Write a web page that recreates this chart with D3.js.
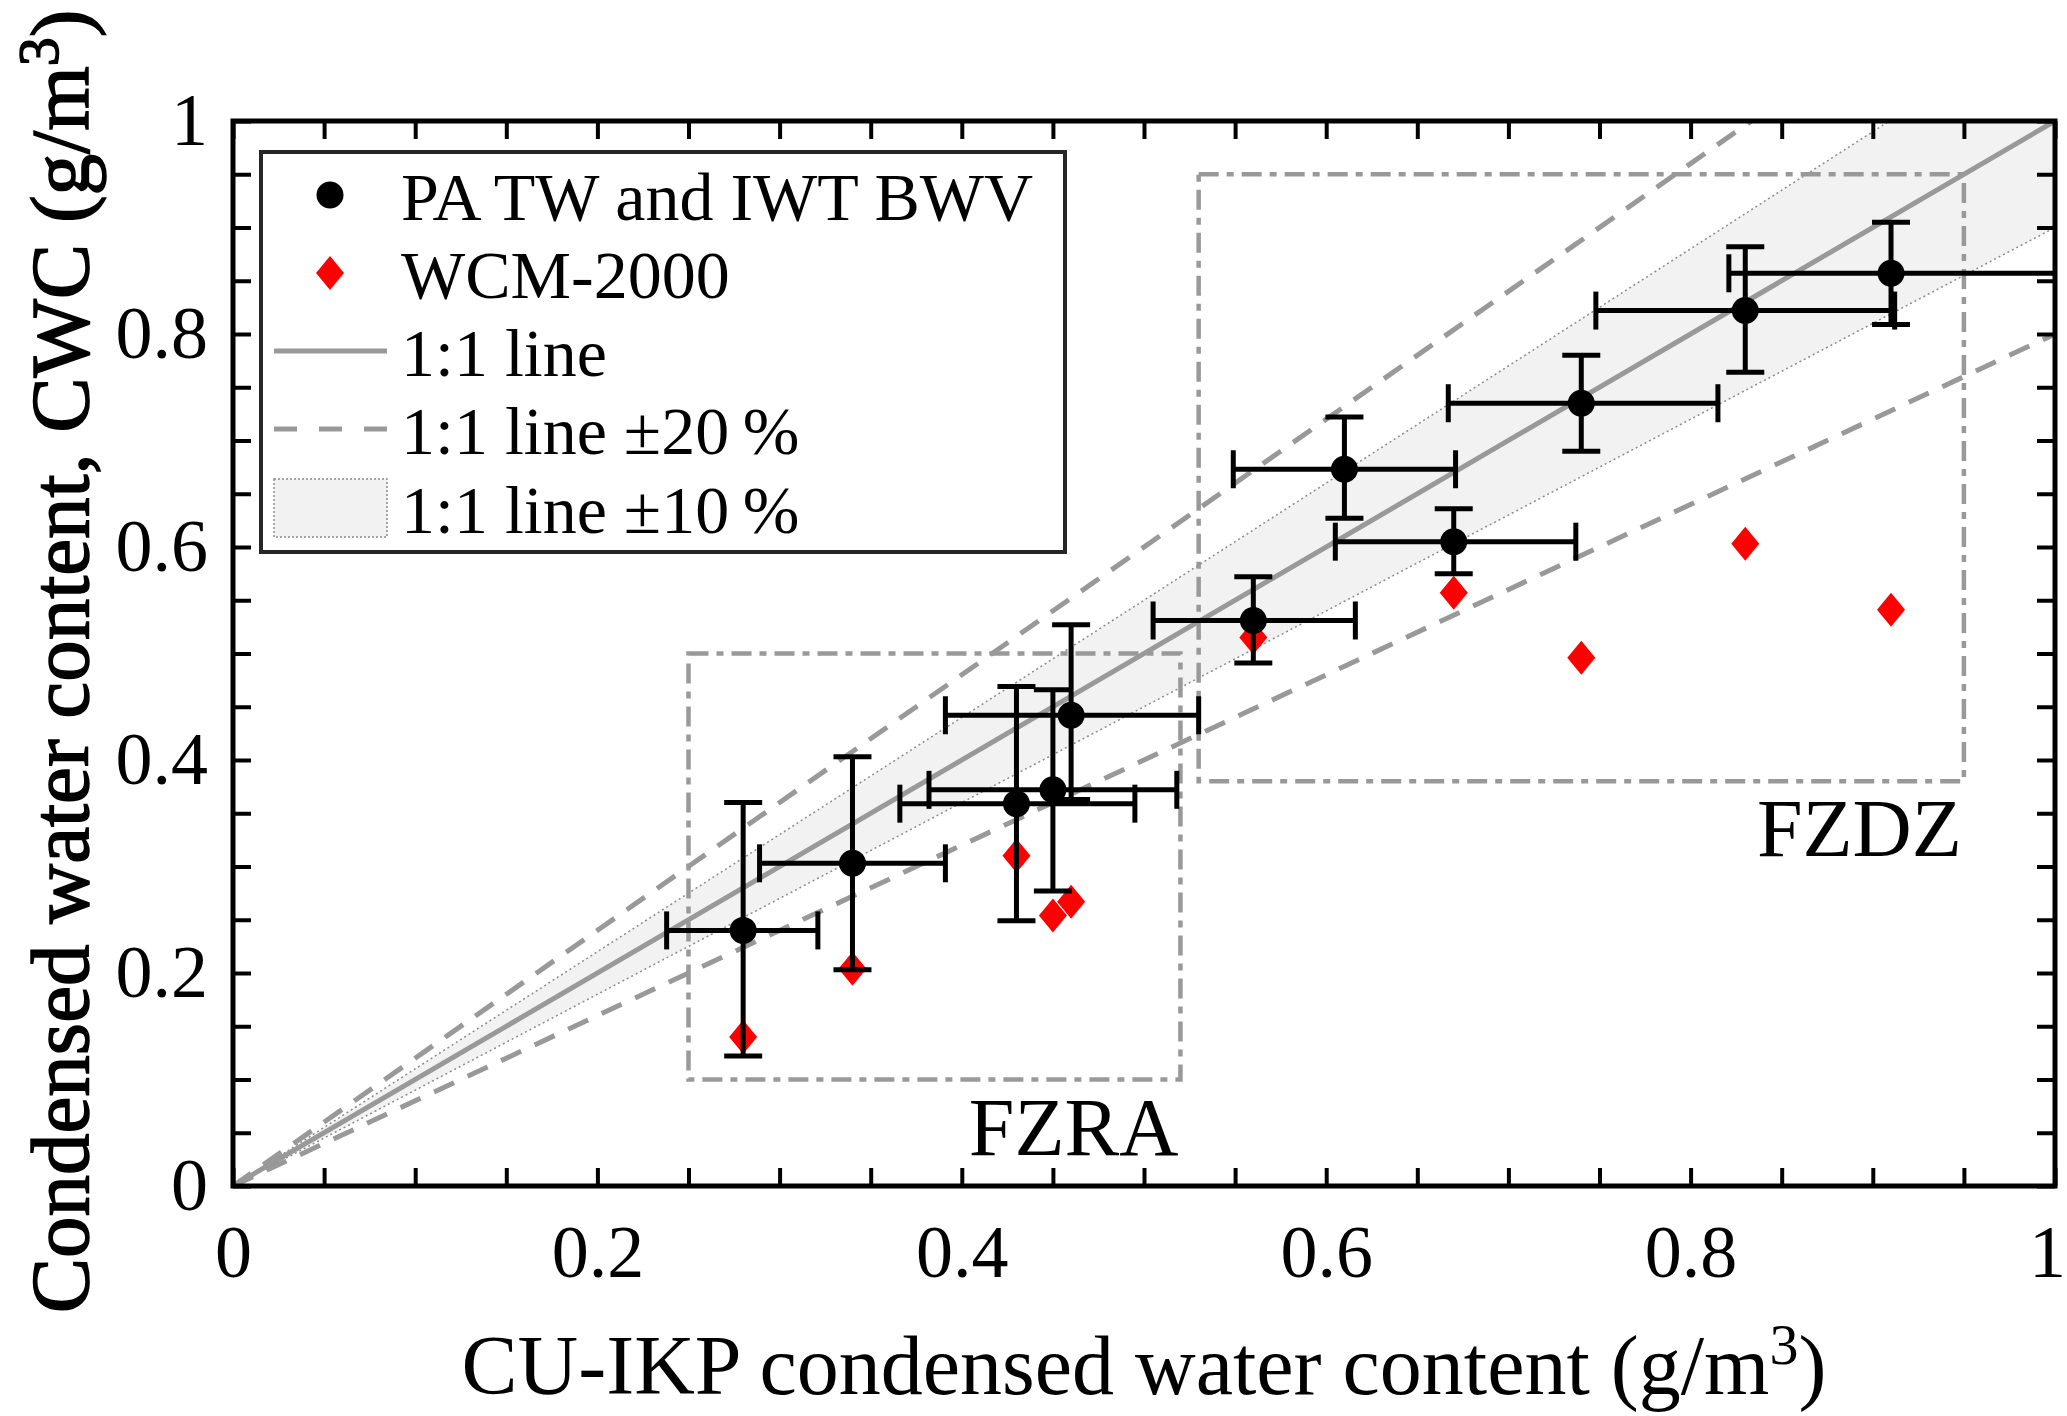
<!DOCTYPE html>
<html>
<head>
<meta charset="utf-8">
<script src="https://cdn.jsdelivr.net/npm/d3@7"></script>
<style>
  body { margin: 0; background: #fff; }
  text { font-family: "Liberation Serif", "Times New Roman", serif; fill: #000; }
</style>
</head>
<body>
<script>
// measured points (CU-IKP vs PA TW / IWT BWV)
const cuX   = [0.28, 0.34, 0.43, 0.45, 0.46, 0.56, 0.61, 0.67, 0.74, 0.83, 0.91];
const cuLo  = [0.238, 0.289, 0.366, 0.382, 0.391, 0.505, 0.549, 0.605, 0.667, 0.748, 0.821];
const cuHi  = [0.321, 0.391, 0.495, 0.518, 0.530, 0.616, 0.671, 0.737, 0.815, 0.912, 1.010];
const cwcY  = [0.240, 0.303, 0.359, 0.372, 0.442, 0.531, 0.673, 0.605, 0.735, 0.822, 0.857];
const cwcLo = [0.122, 0.203, 0.249, 0.277, 0.363, 0.491, 0.627, 0.575, 0.690, 0.764, 0.809];
const cwcHi = [0.360, 0.403, 0.469, 0.466, 0.527, 0.572, 0.722, 0.636, 0.780, 0.882, 0.905];

// WCM-2000 values
const wcmX  = [0.28, 0.34, 0.43, 0.45, 0.46, 0.56, 0.67, 0.74, 0.83, 0.91];
const wcmY  = [0.140, 0.204, 0.310, 0.254, 0.267, 0.515, 0.557, 0.496, 0.603, 0.541];

// regions
const regionNames = ['FZRA', 'FZDZ'];
const regionX0 = [0.25, 0.53];
const regionX1 = [0.52, 0.95];
const regionY0 = [0.10, 0.38];
const regionY1 = [0.50, 0.95];

const minorTicks = d3.range(21).map(i => i / 20);
const majorTicks = [0, 0.2, 0.4, 0.6, 0.8, 1];
const tickLabels = ['0', '0.2', '0.4', '0.6', '0.8', '1'];

const legendLabels = ['PA TW and IWT BWV', 'WCM-2000', '1:1 line', '1:1 line \u00B120\u2009%', '1:1 line \u00B110\u2009%'];

const W = 2067, H = 1416;
const mLeft = 233, mTop = 121, pw = 1822, ph = 1065;
const grey = '#999999';

const svg = d3.select('body').append('svg')
  .attr('width', W).attr('height', H);

const x = d3.scaleLinear().domain([0, 1]).range([0, pw]);
const y = d3.scaleLinear().domain([0, 1]).range([ph, 0]);

svg.append('defs').append('clipPath').attr('id', 'clip')
  .append('rect').attr('width', pw).attr('height', ph);

const g = svg.append('g').attr('transform', `translate(${mLeft},${mTop})`);
const plot = g.append('g').attr('clip-path', 'url(#clip)');

// +-10% band
plot.append('path')
  .datum([0, 1.2])
  .attr('d', d3.area().x(d => x(d)).y0(d => y(0.9 * d)).y1(d => y(1.1 * d)))
  .attr('fill', '#f2f2f2');

const line = k => d3.line().x(d => x(d)).y(d => y(k * d));

[0.9, 1.1].forEach(k => {
  plot.append('path').datum([0, 1.2]).attr('d', line(k))
    .attr('fill', 'none').attr('stroke', '#8c8c8c')
    .attr('stroke-width', 1.5).attr('stroke-dasharray', '2,3');
});

// +-20% lines
[0.8, 1.2].forEach(k => {
  plot.append('path').datum([0, 1.2]).attr('d', line(k))
    .attr('fill', 'none').attr('stroke', grey)
    .attr('stroke-width', 5).attr('stroke-dasharray', '22,15');
});

// 1:1 line
plot.append('path').datum([0, 1]).attr('d', line(1))
  .attr('fill', 'none').attr('stroke', grey).attr('stroke-width', 5);

// region boxes
regionNames.forEach((name, i) => {
  plot.append('rect')
    .attr('x', x(regionX0[i])).attr('y', y(regionY1[i]))
    .attr('width', x(regionX1[i]) - x(regionX0[i]))
    .attr('height', y(regionY0[i]) - y(regionY1[i]))
    .attr('fill', 'none').attr('stroke', grey)
    .attr('stroke-width', 4.5).attr('stroke-dasharray', '20,8,7,8');
  g.append('text')
    .attr('x', x(regionX1[i]) - 2).attr('y', y(regionY0[i]) + 75)
    .attr('text-anchor', 'end')
    .style('font-size', '82px')
    .text(name);
});

// WCM-2000 diamonds
const diamond = (cx, cy) => `M${cx},${cy - 17}L${cx + 14},${cy}L${cx},${cy + 17}L${cx - 14},${cy}Z`;
plot.selectAll('path.wcm').data(wcmX).enter().append('path')
  .attr('class', 'wcm')
  .attr('d', (d, i) => diamond(x(d), y(wcmY[i])))
  .attr('fill', '#ff0000');

// error bars
const cap = 19;
const eb = plot.append('g').attr('stroke', '#000').attr('stroke-width', 5).attr('fill', 'none');
cuX.forEach((cx, i) => {
  const px = x(cx), py = y(cwcY[i]);
  const segs = [
    [x(cuLo[i]), py, x(cuHi[i]), py],
    [x(cuLo[i]), py - cap, x(cuLo[i]), py + cap],
    [x(cuHi[i]), py - cap, x(cuHi[i]), py + cap],
    [px, y(cwcLo[i]), px, y(cwcHi[i])],
    [px - cap, y(cwcLo[i]), px + cap, y(cwcLo[i])],
    [px - cap, y(cwcHi[i]), px + cap, y(cwcHi[i])]
  ];
  segs.forEach(s => eb.append('line')
    .attr('x1', s[0]).attr('y1', s[1]).attr('x2', s[2]).attr('y2', s[3]));
});

plot.selectAll('circle.pt').data(cuX).enter().append('circle')
  .attr('class', 'pt')
  .attr('cx', d => x(d)).attr('cy', (d, i) => y(cwcY[i]))
  .attr('r', 13.5).attr('fill', '#000');

// axes: inward ticks on all four sides
const fmt = d => {
  const k = majorTicks.findIndex(m => Math.abs(m - d) < 1e-9);
  return k >= 0 ? tickLabels[k] : '';
};
const tickLen = 18;

const styleAxis = sel => {
  sel.select('.domain').remove();
  sel.selectAll('.tick line').attr('stroke', '#000').attr('stroke-width', 4);
  sel.selectAll('.tick text').style('font-size', '74px').attr('fill', '#000')
    .style('font-family', '"Liberation Serif", "Times New Roman", serif');
};

const xAxisG = g.append('g').attr('transform', `translate(0,${ph})`)
  .call(d3.axisBottom(x).tickValues(minorTicks).tickFormat(fmt)
    .tickSizeInner(-tickLen).tickSizeOuter(0).tickPadding(38))
  .call(styleAxis);
// keep the last label inside the page edge
xAxisG.selectAll('.tick text').filter(d => d === 1).attr('dx', -8);

g.append('g')
  .call(d3.axisLeft(y).tickValues(minorTicks).tickFormat(fmt)
    .tickSizeInner(-tickLen).tickSizeOuter(0).tickPadding(25))
  .call(styleAxis);

g.append('g')
  .call(d3.axisTop(x).tickValues(minorTicks).tickFormat('')
    .tickSizeInner(-tickLen).tickSizeOuter(0))
  .call(styleAxis);

g.append('g').attr('transform', `translate(${pw},0)`)
  .call(d3.axisRight(y).tickValues(minorTicks).tickFormat('')
    .tickSizeInner(-tickLen).tickSizeOuter(0))
  .call(styleAxis);

g.append('rect').attr('width', pw).attr('height', ph)
  .attr('fill', 'none').attr('stroke', '#000').attr('stroke-width', 5);

// legend
const lg = svg.append('g').attr('transform', 'translate(261,152)');
lg.append('rect').attr('width', 804).attr('height', 400)
  .attr('fill', '#fff').attr('stroke', '#262626').attr('stroke-width', 4);

const rowY = [43, 121, 199, 277, 356];
const symX0 = 13, symX1 = 126, symC = 69;

legendLabels.forEach((t, i) => {
  lg.append('text').attr('x', 140).attr('y', rowY[i] + 25)
    .style('font-size', '68px').text(t);
});
lg.append('circle').attr('cx', symC).attr('cy', rowY[0]).attr('r', 13.5).attr('fill', '#000');
lg.append('path').attr('d', diamond(symC, rowY[1])).attr('fill', '#ff0000');
lg.append('line').attr('x1', symX0).attr('x2', symX1).attr('y1', rowY[2]).attr('y2', rowY[2])
  .attr('stroke', grey).attr('stroke-width', 5);
lg.append('line').attr('x1', symX0).attr('x2', symX1).attr('y1', rowY[3]).attr('y2', rowY[3])
  .attr('stroke', grey).attr('stroke-width', 5).attr('stroke-dasharray', '23,22');
lg.append('rect').attr('x', symX0).attr('y', rowY[4] - 29).attr('width', symX1 - symX0).attr('height', 58)
  .attr('fill', '#f2f2f2').attr('stroke', '#8c8c8c').attr('stroke-width', 1.5).attr('stroke-dasharray', '2,2');

// axis titles
const xt = svg.append('text')
  .attr('x', mLeft + pw / 2).attr('y', 1394)
  .attr('text-anchor', 'middle').style('font-size', '84px');
xt.append('tspan').text('CU-IKP condensed water content (g/m');
xt.append('tspan').attr('dy', -30).style('font-size', '58px').text('3');
xt.append('tspan').attr('dy', 30).text(')');

const yt = svg.append('text')
  .attr('transform', `translate(88,${mTop + ph / 2 + 8}) rotate(-90)`)
  .attr('text-anchor', 'middle').style('font-size', '83px')
  .style('stroke', '#000').style('stroke-width', 1.5);
yt.append('tspan').text('Condensed water content, CWC (g/m');
yt.append('tspan').attr('dy', -30).style('font-size', '58px').text('3');
yt.append('tspan').attr('dy', 30).text(')');
</script>
</body>
</html>
